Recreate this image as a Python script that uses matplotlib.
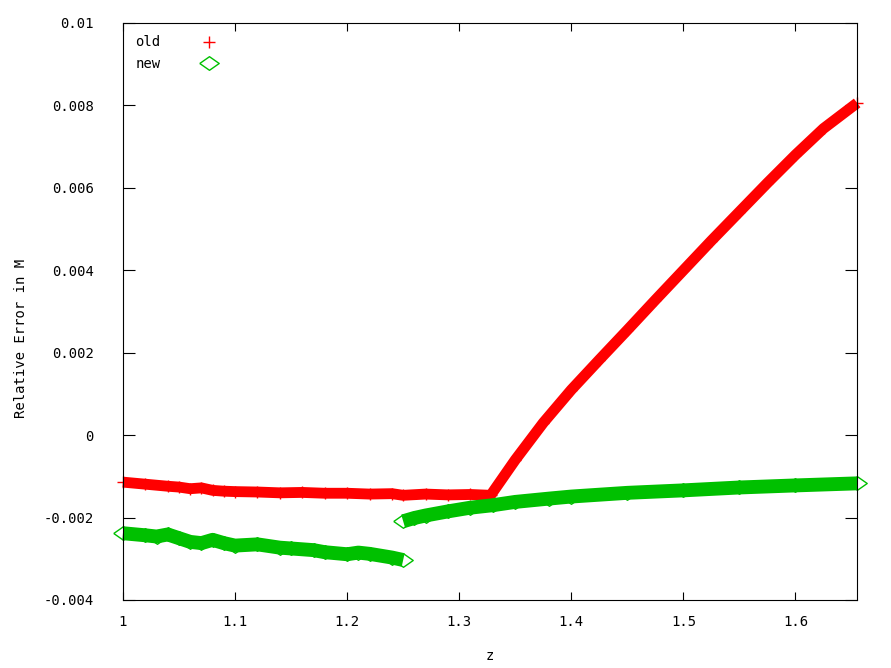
import matplotlib
matplotlib.use("Agg")
import matplotlib.pyplot as plt
import numpy as np

# "old" relative error (red)
z_old = [1.00, 1.02, 1.04, 1.05, 1.06, 1.07, 1.08, 1.09, 1.10, 1.12, 1.14, 1.16,
         1.18, 1.20, 1.22, 1.24, 1.25, 1.27, 1.29, 1.31, 1.328, 1.35, 1.375,
         1.40, 1.425, 1.45, 1.475, 1.50, 1.525, 1.55, 1.575, 1.60, 1.625, 1.655]
err_old = [-0.00114, -0.00119, -0.00124, -0.00126, -0.00130, -0.00128, -0.00134,
           -0.00136, -0.00137, -0.00138, -0.00140, -0.00139, -0.00141, -0.00141,
           -0.00143, -0.00142, -0.00146, -0.00143, -0.00145, -0.00144, -0.00146,
           -0.00060, 0.00030, 0.00110, 0.00183, 0.00255, 0.00328, 0.00400,
           0.00472, 0.00542, 0.00612, 0.00680, 0.00744, 0.00806]

# "new" relative error (green), two branches
z_new_a = [1.00, 1.02, 1.03, 1.04, 1.05, 1.06, 1.07, 1.08, 1.09, 1.10, 1.12,
           1.14, 1.15, 1.17, 1.18, 1.20, 1.21, 1.22, 1.24, 1.25]
err_new_a = [-0.00238, -0.00243, -0.00246, -0.00241, -0.00250, -0.00259,
             -0.00262, -0.00254, -0.00262, -0.00268, -0.00265, -0.00273,
             -0.00275, -0.00279, -0.00284, -0.00289, -0.00285, -0.00288,
             -0.00297, -0.00303]
z_new_b = [1.25, 1.26, 1.27, 1.29, 1.31, 1.33, 1.35, 1.38, 1.40, 1.45, 1.50,
           1.55, 1.60, 1.655]
err_new_b = [-0.00209, -0.00201, -0.00195, -0.00185, -0.00176, -0.00170,
             -0.00162, -0.00154, -0.00149, -0.00140, -0.00134, -0.00127,
             -0.00122, -0.00117]

xticks = [1, 1.1, 1.2, 1.3, 1.4, 1.5, 1.6]
xtick_labels = ["1", "1.1", "1.2", "1.3", "1.4", "1.5", "1.6"]
yticks = [-0.004, -0.002, 0, 0.002, 0.004, 0.006, 0.008, 0.01]
ytick_labels = ["-0.004", "-0.002", "0", "0.002", "0.004", "0.006", "0.008", "0.01"]

RED = "#FF0000"
GREEN = "#00C000"

plt.rcParams["font.family"] = ["DejaVu Sans Mono"]
plt.rcParams["font.size"] = 10

fig = plt.figure(figsize=(8.91, 6.68), dpi=100)
ax = fig.add_axes([0.138, 0.1018, 0.824, 0.8638])

diamond = [(-1, 0), (0, 0.7), (1, 0), (0, -0.7), (-1, 0)]

# dense bands of markers
ax.plot(z_old, err_old, color=RED, lw=7.8, solid_capstyle="butt",
        solid_joinstyle="round", clip_on=False)
ax.plot(z_old, err_old, ls="none", marker="+", ms=8, mew=1, color=RED,
        clip_on=False, label="old")

for i, (zz, ee) in enumerate([(z_new_a, err_new_a), (z_new_b, err_new_b)]):
    ax.plot(zz, ee, color=GREEN, lw=10, solid_capstyle="butt",
            solid_joinstyle="round", clip_on=False)
    ax.plot(zz, ee, ls="none", marker=diamond, ms=14, mew=1, color=GREEN,
            mfc="none", clip_on=False, label="new" if i == 0 else None)

ax.set_xlim(1, 1.655)
ax.set_ylim(-0.004, 0.01)
ax.set_xticks(xticks)
ax.set_xticklabels(xtick_labels)
ax.set_yticks(yticks)
ax.set_yticklabels(ytick_labels)

ax.tick_params(axis="x", direction="in", length=5.8, width=0.8, pad=11,
               top=True, bottom=True)
ax.tick_params(axis="y", direction="in", length=8.3, width=0.8, pad=21,
               left=True, right=True)
for sp in ax.spines.values():
    sp.set_linewidth(0.8)

ax.set_xlabel("z")
ax.xaxis.set_label_coords(0.5, -0.085)
ax.set_ylabel("Relative Error in M")
ax.yaxis.set_label_coords(-0.13, 0.454)

ax.legend(loc="upper left", frameon=False, markerfirst=False, numpoints=1,
          handletextpad=2.5, handlelength=2, labelspacing=0.55,
          borderaxespad=0.5, borderpad=0.4)

fig.savefig("out.png", dpi=100)
